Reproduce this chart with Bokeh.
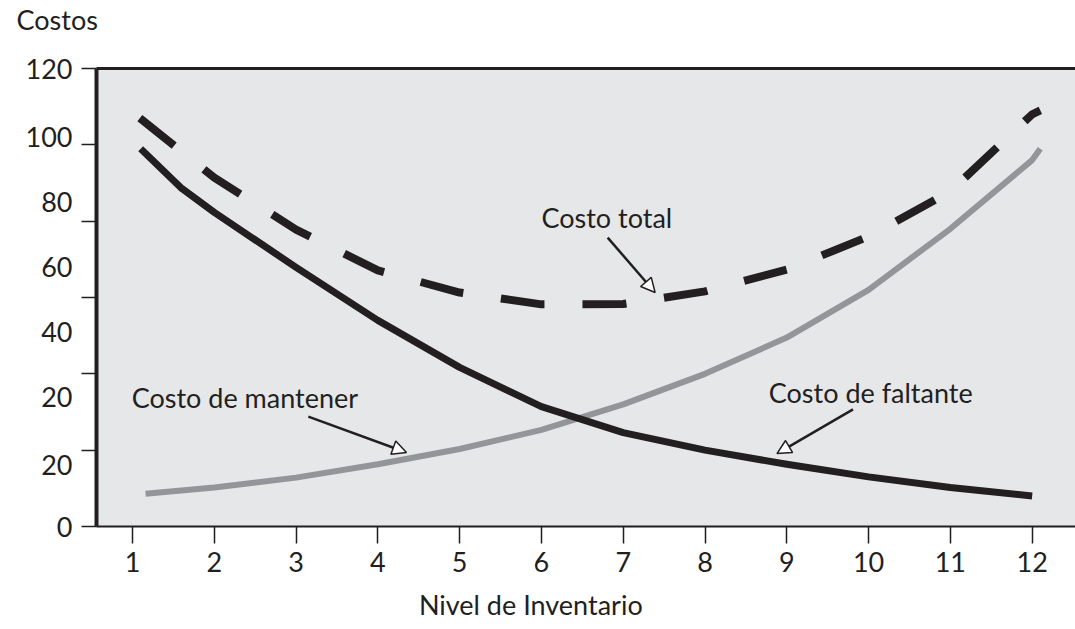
from bokeh.plotting import figure
from bokeh.models import (Range1d, FixedTicker, LinearAxis, Label, Arrow, NormalHead)
from bokeh.embed import file_html
from bokeh.resources import INLINE

# ---- data ----
x_faltante = [1.1, 1.59, 2, 3, 4, 5, 6, 7, 8, 9, 10, 11, 12]
costo_faltante = [99.0, 88.8, 82.3, 67.9, 54.0, 41.7, 31.4, 24.6, 20.0, 16.3, 13.0, 10.2, 8.0]

x_mantener = [1.16, 2, 3, 4, 5, 6, 7, 8, 9, 10, 11, 12, 12.1]
costo_mantener = [8.6, 10.2, 12.8, 16.3, 20.3, 25.3, 32.0, 40.0, 49.5, 62.0, 78.0, 96.0, 99.0]

x_total = [1.09, 2, 3, 4, 5, 6, 7, 8, 9, 10, 11, 12, 12.1]
costo_total = [107.0, 91.4, 77.8, 67.1, 61.3, 58.2, 58.3, 61.6, 67.3, 76.0, 87.8, 108.0, 109.0]

x_ticks = [1, 2, 3, 4, 5, 6, 7, 8, 9, 10, 11, 12]
y_tick_marks = [0, 20, 40, 60, 80, 100, 120]
y_label_pos = [0, 16, 34, 51, 68, 85, 102, 120]
y_label_text = ["0", "20", "20", "40", "60", "80", "100", "120"]

BLACK = "#231f20"
GREY = "#939598"
BG = "#e6e7e8"
FONT = "Lato"
FS = "27px"

p = figure(width=1075, height=629, output_backend="svg", toolbar_location=None,
           x_range=Range1d(0.56, 12.53), y_range=Range1d(0, 120),
           min_border_left=96, min_border_right=0, min_border_top=68, min_border_bottom=103,
           x_axis_type=None, y_axis_type=None, title="Costos\n\u00a0")
p.background_fill_color = BG
p.border_fill_color = "white"
p.outline_line_color = None
p.grid.visible = False

p.title.align = "left"
p.title.offset = -80
p.title.standoff = 0
p.title.text_line_height = 1.0
p.title.text_font = FONT
p.title.text_font_size = FS
p.title.text_font_style = "normal"
p.title.text_color = BLACK

# bottom axis
xa = LinearAxis(ticker=FixedTicker(ticks=x_ticks))
xa.axis_line_color = BLACK
xa.axis_line_width = 2
xa.major_tick_out = 17
xa.major_tick_in = 0
xa.major_tick_line_color = BLACK
xa.major_tick_line_width = 1.5
xa.minor_tick_line_color = None
xa.major_label_standoff = 8
xa.major_label_text_font = FONT
xa.major_label_text_font_size = FS
xa.major_label_text_color = BLACK
p.add_layout(xa, "below")

# x-axis title as a single labelled tick on a second, invisible axis
xlab_pos = 5.87
xa2 = LinearAxis(ticker=FixedTicker(ticks=[xlab_pos]))
xa2.axis_line_color = None
xa2.major_tick_line_color = None
xa2.minor_tick_line_color = None
xa2.major_tick_out = 0
xa2.major_tick_in = 0
xa2.major_label_standoff = 13
xa2.major_label_text_font = FONT
xa2.major_label_text_font_size = FS
xa2.major_label_text_color = BLACK
xa2.major_label_overrides = {xlab_pos: "Nivel de Inventario"}
p.add_layout(xa2, "below")

# left axis: tick marks as minor ticks, labels at their own positions
ya = LinearAxis(ticker=FixedTicker(ticks=y_label_pos, minor_ticks=y_tick_marks))
ya.axis_line_color = BLACK
ya.axis_line_width = 4
ya.major_tick_line_color = None
ya.major_tick_out = 0
ya.major_tick_in = 0
ya.minor_tick_line_color = BLACK
ya.minor_tick_line_width = 1.5
ya.minor_tick_out = 15
ya.minor_tick_in = 0
ya.major_label_standoff = 9
ya.major_label_text_font = FONT
ya.major_label_text_font_size = FS
ya.major_label_text_color = BLACK
ya.major_label_overrides = {v: t for v, t in zip(y_label_pos, y_label_text)}
p.add_layout(ya, "left")

# top border line
ta = LinearAxis(ticker=FixedTicker(ticks=[]))
ta.axis_line_color = BLACK
ta.axis_line_width = 3
ta.major_tick_line_color = None
ta.minor_tick_line_color = None
ta.major_tick_out = 0
ta.major_tick_in = 0
ta.major_label_standoff = 0
ta.major_label_text_font_size = "0px"
p.add_layout(ta, "above")

# curves
p.line(x_total, costo_total, line_color=BLACK, line_width=8, line_dash="44 38",
       line_cap="butt", line_join="round")
p.line(x_mantener, costo_mantener, line_color=GREY, line_width=6, line_join="round")
p.line(x_faltante, costo_faltante, line_color=BLACK, line_width=7, line_join="round")

def lab(x, y, text, align="left"):
    p.add_layout(Label(x=x, y=y, text=text, text_font=FONT, text_font_size=FS,
                       text_color=BLACK, text_baseline="middle", text_align=align))

lab(6.0, 81.0, "Costo total")
lab(0.99, 33.8, "Costo de mantener")
lab(8.78, 35.1, "Costo de faltante")

def arrow(x0, y0, x1, y1):
    p.add_layout(Arrow(end=NormalHead(size=14, fill_color="white", line_color=BLACK,
                                      line_width=1.5),
                       x_start=x0, y_start=y0, x_end=x1, y_end=y1,
                       line_color=BLACK, line_width=2.5))

arrow(6.81, 75.7, 7.39, 61.3)
arrow(3.15, 28.8, 4.35, 19.4)
arrow(9.81, 30.7, 8.88, 19.1)

open("out.html", "w").write(file_html(p, INLINE))
